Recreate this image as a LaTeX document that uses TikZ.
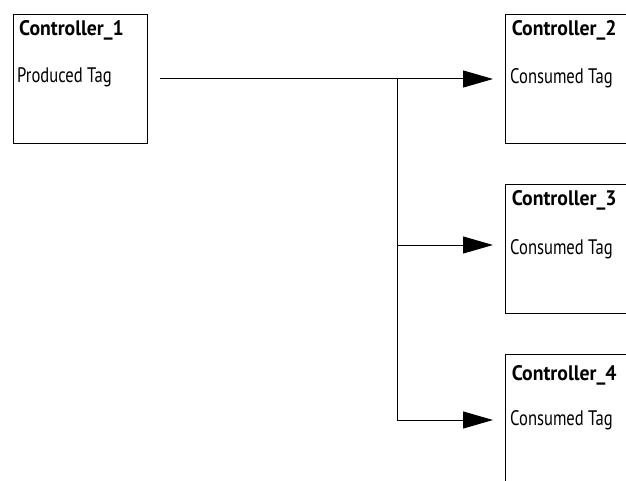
\documentclass[tikz,border=0pt]{standalone}
\usepackage{fontspec}
\setmainfont[FakeStretch=0.79,BoldFeatures={FakeStretch=0.94}]{PT Sans}
\usetikzlibrary{arrows.meta}
\begin{document}
\begin{tikzpicture}[x=1pt,y=-1pt,
  box/.style={draw=black,line width=1pt,inner sep=0pt,anchor=north west,minimum width=#1,minimum height=129.3pt},
  box/.default=134.3pt,
  title/.style={anchor=base west,inner sep=0pt,font=\fontsize{21}{24}\selectfont\bfseries},
  label/.style={anchor=base west,inner sep=0pt,font=\fontsize{21}{24}\selectfont},
  wire/.style={line width=1pt,black},
  arr/.style={wire,-{Triangle[length=30pt,width=17pt]}}]
\useasboundingbox (0,0) rectangle (626,481);
\begin{scope}
\clip (0,0) rectangle (626,481);
% boxes
\node[box] (c1) at (12.7,13.7) {};
\node[box=150pt] (c2) at (505,13.7) {};
\node[box=150pt] (c3) at (505,184) {};
\node[box=150pt,minimum height=150pt] (c4) at (505,354) {};
% texts
\node[title] (t1) at (19,35.7) {Controller\_1};
\node[label] (l1) at (17,82.7) {Produced Tag};
\node[title] (t2) at (511.7,35.7) {Controller\_2};
\node[label] (l2) at (510,84) {Consumed Tag};
\node[title] (t3) at (511.7,205.7) {Controller\_3};
\node[label] (l3) at (510,254) {Consumed Tag};
\node[title] (t4) at (511.7,380) {Controller\_4};
\node[label] (l4) at (510,425) {Consumed Tag};
% connectors
\coordinate (s) at (160,79);
\coordinate (j) at (397,79);
\coordinate (j3) at (397,245);
\coordinate (a2) at (493,79);
\coordinate (a3) at (493,245);
\coordinate (a4) at (493,420);
\draw[wire] (s) -- (j);
\draw[arr] (j) -- (a2);
\draw[arr] (j3) -- (a3);
\draw[arr] (j) |- (a4);
\end{scope}
\end{tikzpicture}
\end{document}
